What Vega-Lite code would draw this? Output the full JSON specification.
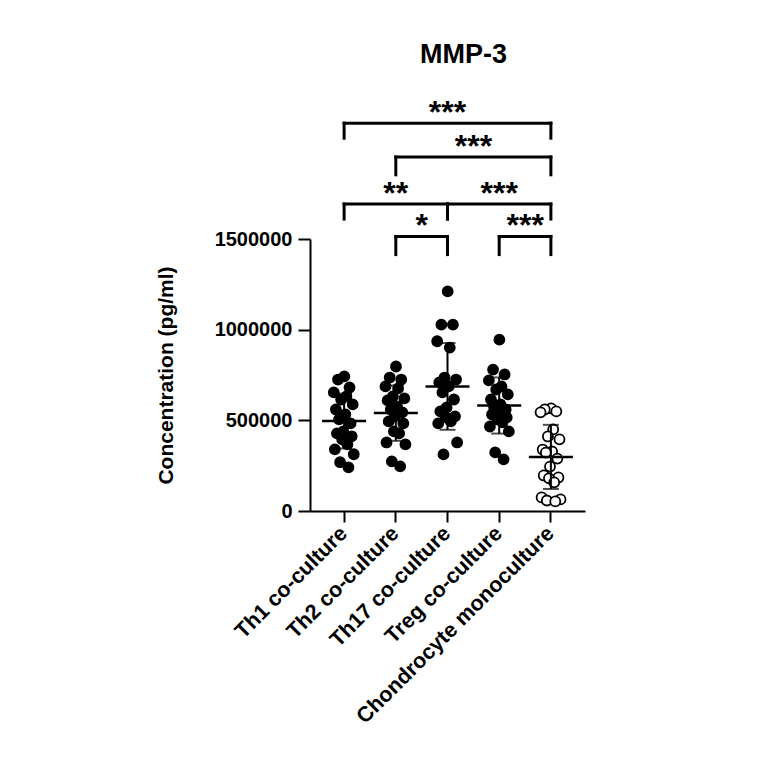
{
  "$schema": "https://vega.github.io/schema/vega-lite/v6.json",
  "autosize": {"type": "none"},
  "padding": {"left": 310, "top": 239, "right": 179, "bottom": 253},
  "width": 275,
  "height": 272,
  "config": {"font": "Liberation Sans", "view": {"stroke": null}},
  "title": {"text": "MMP-3", "fontSize": 27, "fontWeight": "bold", "color": "black", "frame": "group", "dx": 16, "offset": 28},
  "datasets": {
    "points": [
      {"group": "Th1 co-culture", "value": 742000}, {"group": "Th1 co-culture", "value": 725000},
      {"group": "Th1 co-culture", "value": 681000}, {"group": "Th1 co-culture", "value": 654000},
      {"group": "Th1 co-culture", "value": 632000}, {"group": "Th1 co-culture", "value": 615000},
      {"group": "Th1 co-culture", "value": 588000}, {"group": "Th1 co-culture", "value": 560000},
      {"group": "Th1 co-culture", "value": 533000}, {"group": "Th1 co-culture", "value": 505000},
      {"group": "Th1 co-culture", "value": 483000}, {"group": "Th1 co-culture", "value": 439000},
      {"group": "Th1 co-culture", "value": 428000}, {"group": "Th1 co-culture", "value": 412000},
      {"group": "Th1 co-culture", "value": 395000}, {"group": "Th1 co-culture", "value": 368000},
      {"group": "Th1 co-culture", "value": 340000}, {"group": "Th1 co-culture", "value": 313000},
      {"group": "Th1 co-culture", "value": 269000}, {"group": "Th1 co-culture", "value": 241000},
      {"group": "Th2 co-culture", "value": 797000}, {"group": "Th2 co-culture", "value": 736000},
      {"group": "Th2 co-culture", "value": 725000}, {"group": "Th2 co-culture", "value": 687000},
      {"group": "Th2 co-culture", "value": 676000}, {"group": "Th2 co-culture", "value": 632000},
      {"group": "Th2 co-culture", "value": 621000}, {"group": "Th2 co-culture", "value": 610000},
      {"group": "Th2 co-culture", "value": 577000}, {"group": "Th2 co-culture", "value": 560000},
      {"group": "Th2 co-culture", "value": 544000}, {"group": "Th2 co-culture", "value": 522000},
      {"group": "Th2 co-culture", "value": 494000}, {"group": "Th2 co-culture", "value": 483000},
      {"group": "Th2 co-culture", "value": 439000}, {"group": "Th2 co-culture", "value": 428000},
      {"group": "Th2 co-culture", "value": 378000}, {"group": "Th2 co-culture", "value": 367000},
      {"group": "Th2 co-culture", "value": 274000}, {"group": "Th2 co-culture", "value": 246000},
      {"group": "Th17 co-culture", "value": 1211000}, {"group": "Th17 co-culture", "value": 1028000},
      {"group": "Th17 co-culture", "value": 1028000}, {"group": "Th17 co-culture", "value": 936000},
      {"group": "Th17 co-culture", "value": 901000}, {"group": "Th17 co-culture", "value": 736000},
      {"group": "Th17 co-culture", "value": 725000}, {"group": "Th17 co-culture", "value": 709000},
      {"group": "Th17 co-culture", "value": 687000}, {"group": "Th17 co-culture", "value": 654000},
      {"group": "Th17 co-culture", "value": 615000}, {"group": "Th17 co-culture", "value": 571000},
      {"group": "Th17 co-culture", "value": 549000}, {"group": "Th17 co-culture", "value": 522000},
      {"group": "Th17 co-culture", "value": 516000}, {"group": "Th17 co-culture", "value": 494000},
      {"group": "Th17 co-culture", "value": 483000}, {"group": "Th17 co-culture", "value": 378000},
      {"group": "Th17 co-culture", "value": 312000},
      {"group": "Treg co-culture", "value": 945000}, {"group": "Treg co-culture", "value": 780000},
      {"group": "Treg co-culture", "value": 753000}, {"group": "Treg co-culture", "value": 720000},
      {"group": "Treg co-culture", "value": 687000}, {"group": "Treg co-culture", "value": 670000},
      {"group": "Treg co-culture", "value": 643000}, {"group": "Treg co-culture", "value": 615000},
      {"group": "Treg co-culture", "value": 588000}, {"group": "Treg co-culture", "value": 571000},
      {"group": "Treg co-culture", "value": 560000}, {"group": "Treg co-culture", "value": 549000},
      {"group": "Treg co-culture", "value": 532000}, {"group": "Treg co-culture", "value": 516000},
      {"group": "Treg co-culture", "value": 505000}, {"group": "Treg co-culture", "value": 489000},
      {"group": "Treg co-culture", "value": 466000}, {"group": "Treg co-culture", "value": 439000},
      {"group": "Treg co-culture", "value": 323000}, {"group": "Treg co-culture", "value": 285000},
      {"group": "Chondrocyte monoculture", "value": 566000}, {"group": "Chondrocyte monoculture", "value": 560000},
      {"group": "Chondrocyte monoculture", "value": 549000}, {"group": "Chondrocyte monoculture", "value": 544000},
      {"group": "Chondrocyte monoculture", "value": 450000}, {"group": "Chondrocyte monoculture", "value": 411000},
      {"group": "Chondrocyte monoculture", "value": 395000}, {"group": "Chondrocyte monoculture", "value": 339000},
      {"group": "Chondrocyte monoculture", "value": 328000}, {"group": "Chondrocyte monoculture", "value": 322000},
      {"group": "Chondrocyte monoculture", "value": 289000}, {"group": "Chondrocyte monoculture", "value": 245000},
      {"group": "Chondrocyte monoculture", "value": 196000}, {"group": "Chondrocyte monoculture", "value": 185000},
      {"group": "Chondrocyte monoculture", "value": 180000}, {"group": "Chondrocyte monoculture", "value": 158000},
      {"group": "Chondrocyte monoculture", "value": 75000}, {"group": "Chondrocyte monoculture", "value": 64000},
      {"group": "Chondrocyte monoculture", "value": 58000}, {"group": "Chondrocyte monoculture", "value": 53000}
    ],
    "brackets": [
      {"from": "Th1 co-culture", "to": "Chondrocyte monoculture", "top": 2139000, "bottom": 2056000, "label": "***", "mid": "Th17 co-culture", "between": false},
      {"from": "Th2 co-culture", "to": "Chondrocyte monoculture", "top": 1952000, "bottom": 1854000, "label": "***", "mid": "Th17 co-culture", "between": true},
      {"from": "Th1 co-culture", "to": "Th17 co-culture", "top": 1693000, "bottom": 1610000, "label": "**", "mid": "Th2 co-culture", "between": false},
      {"from": "Th17 co-culture", "to": "Chondrocyte monoculture", "top": 1693000, "bottom": 1610000, "label": "***", "mid": "Treg co-culture", "between": false},
      {"from": "Th2 co-culture", "to": "Th17 co-culture", "top": 1514000, "bottom": 1414000, "label": "*", "mid": "Th2 co-culture", "between": true},
      {"from": "Treg co-culture", "to": "Chondrocyte monoculture", "top": 1514000, "bottom": 1414000, "label": "***", "mid": "Treg co-culture", "between": true}
    ]
  },
  "layer": [
    {
      "data": {"name": "points"},
      "transform": [
        {"window": [{"op": "row_number", "as": "rank"}], "groupby": ["group"], "sort": [{"field": "value", "order": "descending"}]}
      ],
      "mark": {"type": "circle", "size": 100, "stroke": "black", "strokeWidth": 1.8, "opacity": 1},
      "encoding": {
        "x": {
          "field": "group",
          "type": "nominal",
          "scale": {"type": "band", "paddingInner": 0, "paddingOuter": 0.16, "domain": ["Th1 co-culture", "Th2 co-culture", "Th17 co-culture", "Treg co-culture", "Chondrocyte monoculture"]},
          "axis": {"title": null, "labelAngle": -45, "labelBaseline": "middle", "labelFontSize": 21.5, "labelFontWeight": "bold", "labelColor": "black", "labelPadding": 8, "labelLimit": 0, "tickSize": 11, "tickWidth": 2, "tickColor": "black", "domainWidth": 2, "domainColor": "black"}
        },
        "xOffset": {
          "field": "rank",
          "type": "nominal",
          "scale": {"domain": [4, 17, 8, 13, 2, 10, 19, 6, 15, 12, 1, 9, 5, 16, 20, 3, 11, 14, 7, 18], "range": [15, 36]}
        },
        "y": {
          "field": "value",
          "type": "quantitative",
          "scale": {"domain": [0, 1500000], "nice": false},
          "axis": {"title": "Concentration (pg/ml)", "values": [0, 500000, 1000000, 1500000], "format": "d", "grid": false, "labelFontSize": 20, "labelFontWeight": "bold", "labelColor": "black", "labelPadding": 6, "tickSize": 12, "tickWidth": 2, "tickColor": "black", "domainWidth": 2, "domainColor": "black", "titleFontSize": 21, "titleFontWeight": "bold", "titleColor": "black", "titlePadding": 38}
        },
        "fill": {"condition": {"test": "datum.group === 'Chondrocyte monoculture'", "value": "white"}, "value": "black"}
      }
    },
    {
      "data": {"name": "points"},
      "mark": {"type": "errorbar", "extent": "stdev", "color": "black", "thickness": 2, "ticks": {"size": 16, "thickness": 2, "color": "black"}},
      "encoding": {
        "x": {"field": "group", "type": "nominal", "title": null},
        "y": {"field": "value", "type": "quantitative", "title": "Concentration (pg/ml)"}
      }
    },
    {
      "data": {"name": "points"},
      "mark": {"type": "tick", "color": "black", "size": 44, "thickness": 2.5},
      "encoding": {
        "x": {"field": "group", "type": "nominal", "title": null},
        "y": {"aggregate": "mean", "field": "value", "type": "quantitative", "title": "Concentration (pg/ml)"}
      }
    },
    {
      "data": {"name": "brackets"},
      "mark": {"type": "rule", "color": "black", "strokeWidth": 3, "strokeCap": "square"},
      "encoding": {
        "x": {"field": "from", "type": "nominal", "title": null},
        "x2": {"field": "to"},
        "y": {"field": "top", "type": "quantitative", "title": "Concentration (pg/ml)"}
      }
    },
    {
      "data": {"name": "brackets"},
      "transform": [{"fold": ["from", "to"], "as": ["end", "category"]}],
      "mark": {"type": "rule", "color": "black", "strokeWidth": 3, "strokeCap": "square"},
      "encoding": {
        "x": {"field": "category", "type": "nominal", "title": null},
        "y": {"field": "bottom", "type": "quantitative", "title": "Concentration (pg/ml)"},
        "y2": {"field": "top"}
      }
    },
    {
      "data": {"name": "brackets"},
      "transform": [{"filter": "!datum.between"}],
      "mark": {"type": "text", "fontSize": 32, "fontWeight": "bold", "color": "black", "baseline": "alphabetic", "dy": 0},
      "encoding": {
        "x": {"field": "mid", "type": "nominal", "title": null},
        "y": {"field": "top", "type": "quantitative", "title": "Concentration (pg/ml)"},
        "text": {"field": "label"}
      }
    },
    {
      "data": {"name": "brackets"},
      "transform": [{"filter": "datum.between"}],
      "mark": {"type": "text", "fontSize": 32, "fontWeight": "bold", "color": "black", "baseline": "alphabetic", "dy": 0, "dx": 26},
      "encoding": {
        "x": {"field": "mid", "type": "nominal", "title": null},
        "y": {"field": "top", "type": "quantitative", "title": "Concentration (pg/ml)"},
        "text": {"field": "label"}
      }
    }
  ]
}
